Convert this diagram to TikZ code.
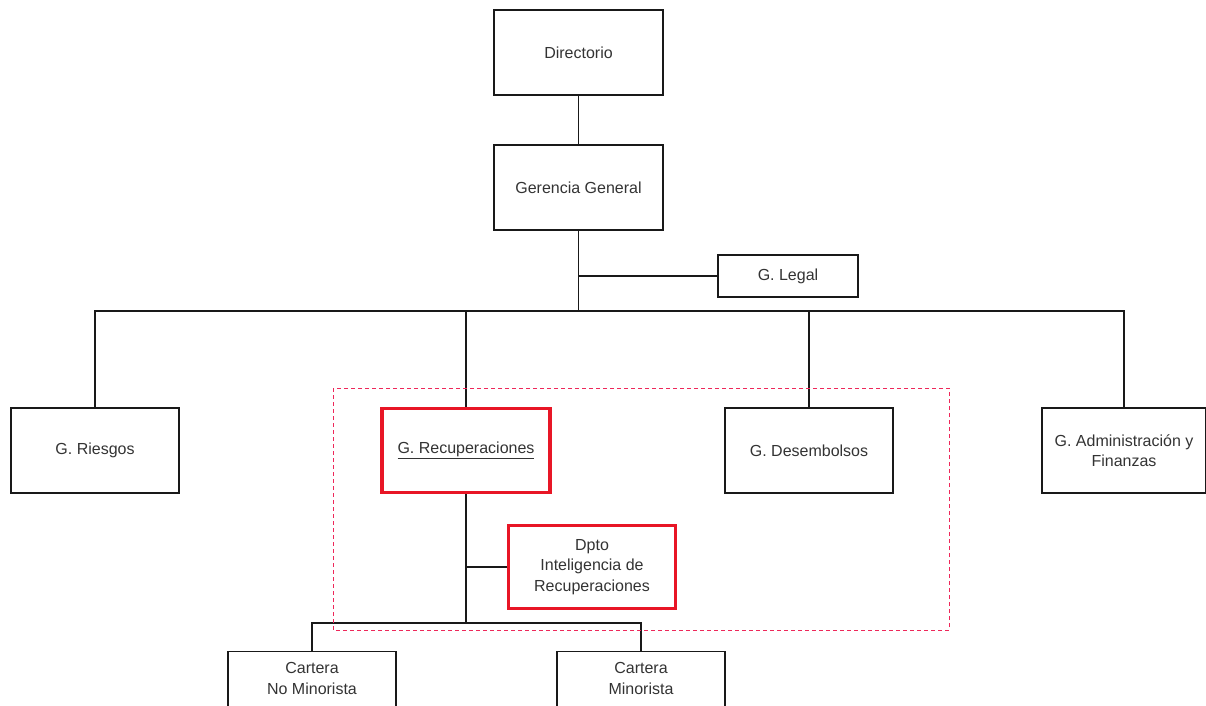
\documentclass[tikz,border=0pt]{standalone}
\usepackage{fontspec}
\setmainfont{Liberation Sans}
\begin{document}
\begin{tikzpicture}[x=1pt,y=-1pt,
  every node/.style={font=\fontsize{16}{20.5}\selectfont, text=black!80},
  unit/.style={draw=black!90, line width=1.4pt, align=center, inner sep=0pt,
               minimum width=168pt, minimum height=85pt},
  hilite/.style={unit, draw={rgb,255:red,232;green,22;blue,38}},
  link/.style={draw=black!90, line width=1.3pt}]
\useasboundingbox (0,0) rectangle (1206,705);
\clip (0,0) rectangle (1206,705);

% boxes
\node[unit, minimum width=169pt] (dir) at (578.5,52.5) {Directorio};
\node[unit, minimum width=169pt] (gg) at (578.5,187.5) {Gerencia General};
\node[unit, minimum width=140pt, minimum height=42pt] (legal) at (788,276) {G. Legal};
\node[unit] (ries) at (95,450.5) {G. Riesgos};
\node[hilite, line width=3.5pt, minimum width=168pt, minimum height=84pt] (rec) at (466,450.5) {\underline{G. Recuperaciones}};
\node[unit] (des) at (809,450.5) {G. Desembolsos};
\node[unit, minimum width=164pt] (adm) at (1124,450.5) {G. Administración y\\Finanzas};
\node[hilite, line width=2.5pt, minimum width=167pt, minimum height=83pt] (dpto) at (592,567) {Dpto\\Inteligencia de\\Recuperaciones};
\node[unit, minimum height=85pt] (cnm) at (312,694) {Cartera\\No Minorista\\[11pt]\phantom{x}};
\node[unit, minimum height=85pt] (cmi) at (641,694) {Cartera\\Minorista\\[11pt]\phantom{x}};

% junction points
\coordinate (bus) at (578.5,311);
\coordinate (sub) at (466,623);

% connectors
\draw[link] (dir.south) -- (gg.north);
\draw[link] (gg.south) -- (bus);
\draw[link] (legal.west) -- (legal.west -| gg.south);
\draw[link] (ries.north) |- (bus) -| (adm.north);
\draw[link] (rec.north) -- (rec.north |- bus);
\draw[link] (des.north) -- (des.north |- bus);
\draw[link] (rec.south) -- (sub);
\draw[link] (dpto.west) -- (dpto.west -| rec.south);
\draw[link] (cnm.north) |- (sub) -| (cmi.north);

% group frame around the recovery area
\draw[draw={rgb,255:red,238;green,40;blue,90}, line width=0.9pt, dash pattern=on 4pt off 3pt]
  (333,388) rectangle (949,630);
\end{tikzpicture}
\end{document}
